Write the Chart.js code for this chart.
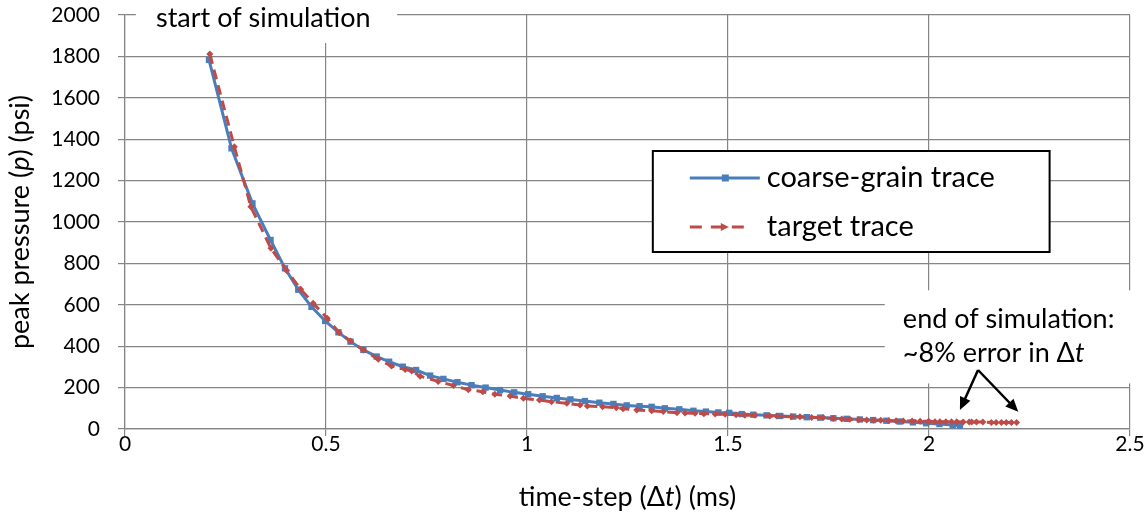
<!DOCTYPE html>
<html lang="en">
<head>
<meta charset="UTF-8">
<title>Peak pressure vs time-step</title>
<script src="https://cdn.jsdelivr.net/npm/chart.js"></script>
<style>
  body { margin: 0; background: #fff; }
</style>
</head>
<body>
<canvas id="chart" width="1145" height="514"></canvas>
<script>
  // time-step (ms) and peak pressure (psi)
  const coarseX = [0.209, 0.265, 0.317, 0.362, 0.398, 0.431, 0.464, 0.498, 0.531, 0.561,
    0.593, 0.626, 0.657, 0.691, 0.724, 0.759, 0.792, 0.827, 0.862, 0.897,
    0.933, 0.968, 1.003, 1.039, 1.074, 1.108, 1.144, 1.18, 1.215, 1.248,
    1.28, 1.31, 1.343, 1.379, 1.414, 1.445, 1.476, 1.503, 1.534, 1.563,
    1.596, 1.63, 1.662, 1.696, 1.729, 1.762, 1.795, 1.828, 1.861, 1.894,
    1.927, 1.96, 1.993, 2.026, 2.059, 2.077];
  const coarseP = [1783, 1356, 1090, 913, 776, 673, 590, 522, 467, 422,
    382, 350, 325, 301, 285, 258, 242, 226, 212, 200,
    188, 177, 168, 158, 150, 143, 135, 127, 121, 114,
    110, 107, 100, 95, 88, 84, 80, 78, 72, 69,
    66, 63, 60, 57, 55, 52, 49, 46, 43, 40,
    36, 32, 28, 24, 19, 16];

  const targetX = [0.211, 0.272, 0.313, 0.363, 0.402, 0.437, 0.468, 0.503, 0.533, 0.561,
    0.593, 0.63, 0.663, 0.697, 0.713, 0.734, 0.779, 0.817, 0.854, 0.89,
    0.92, 0.958, 0.991, 1.031, 1.061, 1.099, 1.132, 1.15, 1.188, 1.222,
    1.239, 1.273, 1.31, 1.339, 1.373, 1.393, 1.418, 1.44, 1.468, 1.493,
    1.52, 1.542, 1.567, 1.604, 1.621, 1.658, 1.679, 1.708, 1.737, 1.762,
    1.783, 1.803, 1.825, 1.845, 1.862, 1.88, 1.9, 1.918, 1.936, 1.958,
    1.978, 1.999, 2.015, 2.027, 2.042, 2.056, 2.069, 2.085, 2.1, 2.106,
    2.118, 2.134, 2.155, 2.167, 2.18, 2.192, 2.205, 2.218];
  const targetP = [1811, 1364, 1074, 873, 766, 675, 608, 535, 465, 425,
    382, 337, 304, 288, 280, 255, 230, 210, 190, 180,
    168, 159, 148, 140, 132, 124, 116, 111, 108, 103,
    98, 92, 88, 84, 79, 77, 76, 74, 72, 71,
    69, 66, 66, 63, 63, 59, 59, 56, 55, 51,
    48, 47, 45, 43, 42, 42, 40, 40, 39, 39,
    37, 37, 35, 35, 35, 35, 35, 34, 34, 34,
    34, 34, 32, 32, 32, 32, 32, 32];

  const xTicks = [0, 0.5, 1, 1.5, 2, 2.5];
  const yTicks = [0, 200, 400, 600, 800, 1000, 1200, 1400, 1600, 1800, 2000];

  const seriesNames = ['coarse-grain trace', 'target trace'];

  const FONT = 'Lato, "Open Sans", sans-serif';
  const GRID = '#858585';
  const BLUE = '#4a7ebb';
  const RED = '#be4b48';

  function toPoints(xs, ys) {
    return xs.map((x, i) => ({ x: x, y: ys[i] }));
  }

  // draws text made of plain and italic pieces, centred on (x, y)
  function richText(ctx, parts, x, y, size) {
    let total = 0;
    parts.forEach(p => {
      ctx.font = (p.i ? 'italic ' : '') + size + 'px ' + FONT;
      p.w = ctx.measureText(p.t).width;
      total += p.w;
    });
    let cx = x - total / 2;
    parts.forEach(p => {
      ctx.font = (p.i ? 'italic ' : '') + size + 'px ' + FONT;
      ctx.fillText(p.t, cx, y);
      cx += p.w;
    });
  }

  function richTextLeft(ctx, parts, x, y, size) {
    let cx = x;
    parts.forEach(p => {
      ctx.font = (p.i ? 'italic ' : '') + size + 'px ' + FONT;
      ctx.fillText(p.t, cx, y);
      cx += ctx.measureText(p.t).width;
    });
  }

  function arrow(ctx, x1, y1, x2, y2) {
    const ang = Math.atan2(y2 - y1, x2 - x1);
    const head = 14;
    ctx.beginPath();
    ctx.moveTo(x1, y1);
    ctx.lineTo(x2 - Math.cos(ang) * head * 0.8, y2 - Math.sin(ang) * head * 0.8);
    ctx.stroke();
    ctx.beginPath();
    ctx.moveTo(x2, y2);
    ctx.lineTo(x2 - head * Math.cos(ang - 0.42), y2 - head * Math.sin(ang - 0.42));
    ctx.lineTo(x2 - head * Math.cos(ang + 0.42), y2 - head * Math.sin(ang + 0.42));
    ctx.closePath();
    ctx.fill();
  }

  const extras = {
    id: 'extras',
    afterDraw(chart) {
      const ctx = chart.ctx;
      const xs = chart.scales.x, ys = chart.scales.y;
      const px = v => xs.getPixelForValue(v);
      const py = v => ys.getPixelForValue(v);
      ctx.save();
      ctx.textBaseline = 'middle';

      // "start of simulation" text box
      ctx.fillStyle = '#fff';
      ctx.fillRect(px(0.027), 0, px(0.677) - px(0.027), 43);
      ctx.fillStyle = '#000';
      ctx.textAlign = 'left';
      ctx.font = '27px ' + FONT;
      ctx.fillText('start of simulation', px(0.077), 18);

      // "end of simulation" text box
      ctx.fillStyle = '#fff';
      ctx.fillRect(px(1.89), py(670), chart.width - px(1.89), py(220) - py(670));
      ctx.fillStyle = '#000';
      ctx.fillText('end of simulation:', px(1.935), py(528));
      richTextLeft(ctx, [{ t: '~8% error in \u0394', i: false }, { t: 't', i: true }], px(1.935), py(368), 27);

      ctx.strokeStyle = '#000';
      ctx.lineWidth = 2.5;
      ctx.fillStyle = '#000';
      arrow(ctx, px(2.122), py(285), px(2.077), py(92));
      arrow(ctx, px(2.122), py(285), px(2.222), py(83));

      // legend
      const lx0 = px(1.313), lx1 = px(2.3), ly0 = py(1343), ly1 = py(855);
      ctx.fillStyle = '#fff';
      ctx.fillRect(lx0, ly0, lx1 - lx0, ly1 - ly0);
      ctx.strokeStyle = '#000';
      ctx.lineWidth = 2;
      ctx.strokeRect(lx0, ly0, lx1 - lx0, ly1 - ly0);

      const row1 = ly0 + 27, row2 = ly0 + 76;
      ctx.strokeStyle = BLUE;
      ctx.lineWidth = 3;
      ctx.beginPath();
      ctx.moveTo(lx0 + 37, row1);
      ctx.lineTo(lx0 + 107, row1);
      ctx.stroke();
      ctx.fillStyle = BLUE;
      ctx.fillRect(lx0 + 69, row1 - 3.5, 7, 7);

      ctx.strokeStyle = RED;
      ctx.setLineDash([12, 9]);
      ctx.beginPath();
      ctx.moveTo(lx0 + 37, row2);
      ctx.lineTo(lx0 + 95, row2);
      ctx.stroke();
      ctx.setLineDash([]);
      ctx.fillStyle = RED;
      ctx.beginPath();
      ctx.moveTo(lx0 + 72 - 4, row2 - 4);
      ctx.lineTo(lx0 + 72 + 4, row2);
      ctx.lineTo(lx0 + 72 - 4, row2 + 4);
      ctx.closePath();
      ctx.fill();

      ctx.fillStyle = '#000';
      ctx.font = '29px ' + FONT;
      ctx.fillText(seriesNames[0], lx0 + 114, row1);
      ctx.fillText(seriesNames[1], lx0 + 114, row2);

      // axis titles
      richText(ctx, [{ t: 'time-step (\u0394', i: false }, { t: 't', i: true }, { t: ') (ms)', i: false }],
        (chart.chartArea.left + chart.chartArea.right) / 2, 497, 27);
      ctx.translate(20, (chart.chartArea.top + chart.chartArea.bottom) / 2);
      ctx.rotate(-Math.PI / 2);
      richText(ctx, [{ t: 'peak pressure (', i: false }, { t: 'p', i: true }, { t: ') (psi)', i: false }], 0, 0, 27);
      ctx.restore();
    }
  };

  const ctx = document.getElementById('chart').getContext('2d');
  new Chart(ctx, {
    type: 'line',
    data: {
      datasets: [
        {
          label: seriesNames[0],
          data: toPoints(coarseX, coarseP),
          borderColor: BLUE,
          backgroundColor: BLUE,
          borderWidth: 3,
          pointStyle: 'rect',
          pointRadius: 4.5,
          pointBorderWidth: 0,
          tension: 0,
          order: 2
        },
        {
          label: seriesNames[1],
          data: toPoints(targetX, targetP),
          borderColor: RED,
          backgroundColor: RED,
          borderWidth: 3,
          borderDash: [10, 6],
          pointStyle: 'rectRot',
          pointRadius: 3.5,
          pointBorderWidth: 0,
          tension: 0,
          order: 1
        }
      ]
    },
    options: {
      responsive: false,
      animation: false,
      layout: { padding: { top: 15, right: 15, left: 0, bottom: 0 } },
      plugins: {
        legend: { display: false },
        tooltip: { enabled: false }
      },
      scales: {
        x: {
          type: 'linear',
          min: 0,
          max: 2.5,
          afterBuildTicks: s => { s.ticks = xTicks.map(v => ({ value: v })); },
          afterFit: s => { s.height = 85; s.paddingLeft = 0; s.paddingRight = 0; },
          ticks: {
            color: '#000',
            font: { family: FONT, size: 21 },
            padding: -4,
            maxRotation: 0,
            callback: v => String(v)
          },
          grid: { color: GRID, lineWidth: 1.2, tickLength: 7 },
          border: { color: GRID, width: 1.2 }
        },
        y: {
          min: 0,
          max: 2000,
          afterBuildTicks: s => { s.ticks = yTicks.map(v => ({ value: v })); },
          afterFit: s => { s.width = 125; s.paddingTop = 0; s.paddingBottom = 0; },
          ticks: {
            color: '#000',
            font: { family: FONT, size: 21 },
            padding: 18,
            callback: v => String(v)
          },
          grid: { color: GRID, lineWidth: 1.2, tickLength: 7 },
          border: { color: GRID, width: 1.2 }
        }
      }
    },
    plugins: [extras]
  });
</script>
</body>
</html>
